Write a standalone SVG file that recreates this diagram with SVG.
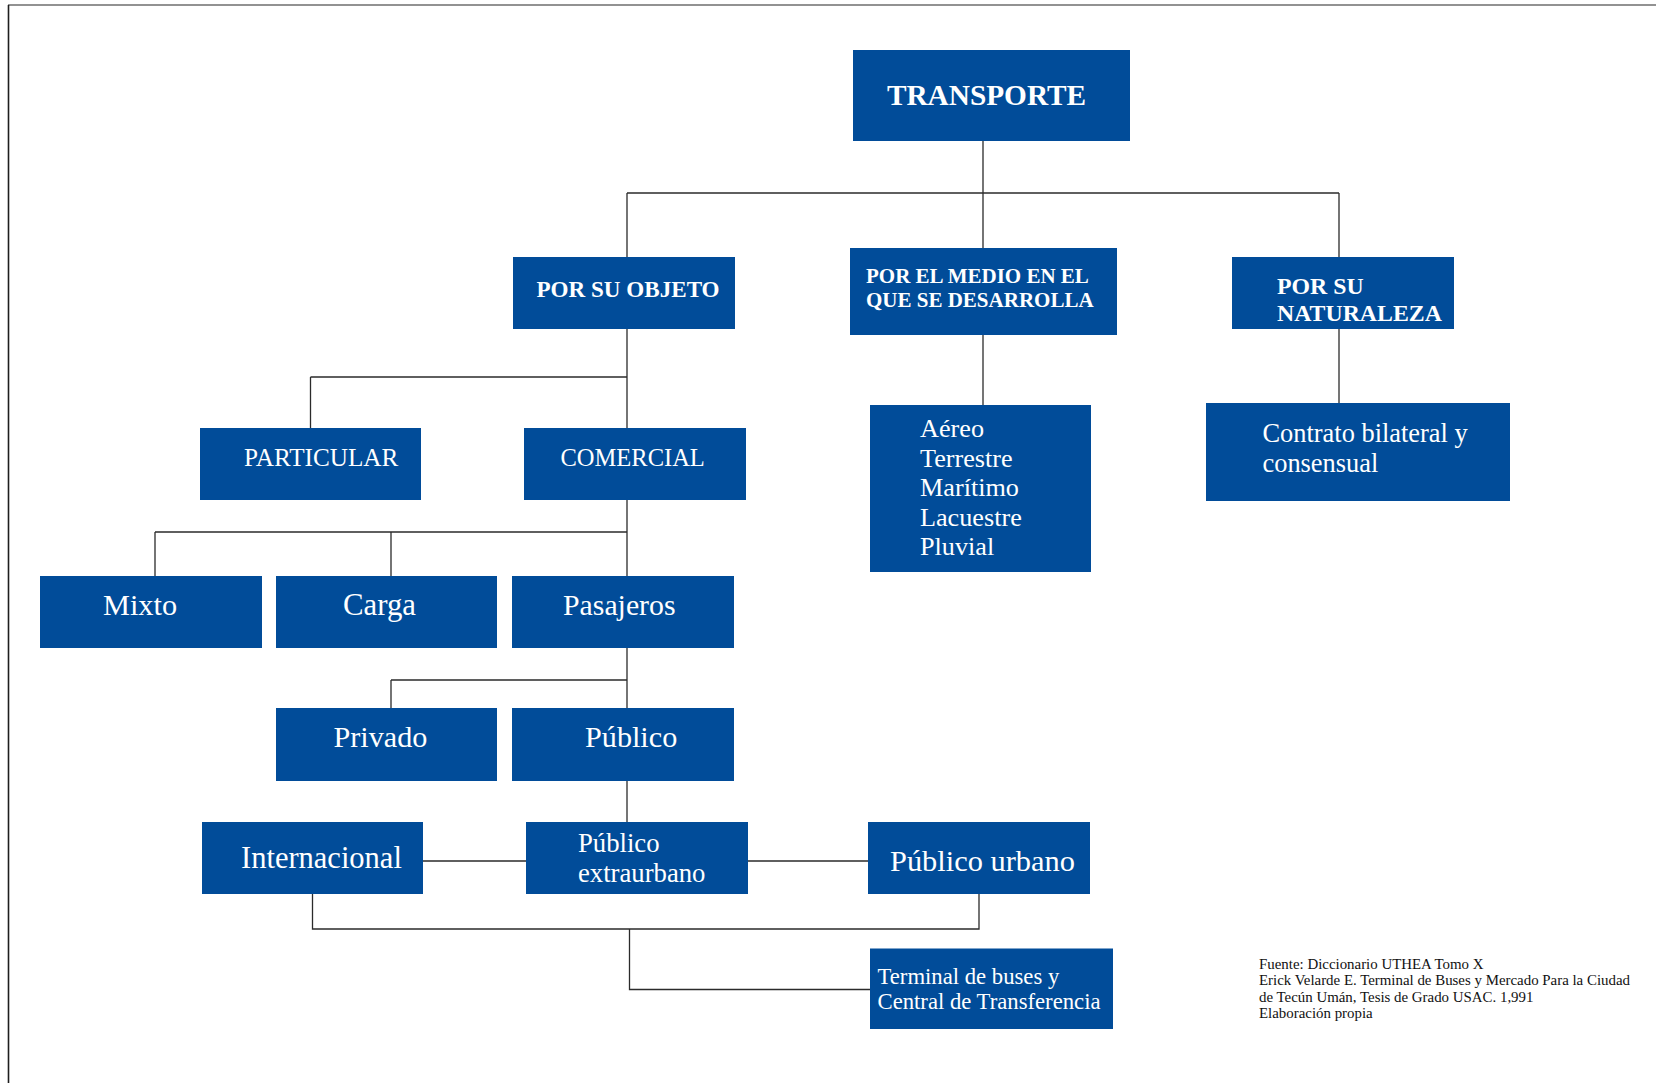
<svg xmlns="http://www.w3.org/2000/svg" width="1656" height="1083" viewBox="0 0 1656 1083">
  <style>
    .box { fill: #014c99; }
    .t { font-family: "Liberation Serif", "Times New Roman", serif; fill: #ffffff; }
    .b { font-weight: bold; }
    .wire { fill: none; stroke: #2b2b2b; stroke-width: 1.3; }
    .note { font-family: "Liberation Serif", "Times New Roman", serif; fill: #111111; font-size: 14.9px; }
  </style>
  <rect width="1656" height="1083" fill="#ffffff"/>

  <!-- page frame -->
  <line x1="8" y1="5" x2="1656" y2="5" stroke="#6e6e6e" stroke-width="1.6"/>
  <line x1="8.5" y1="5" x2="8.5" y2="1083" stroke="#1e1e1e" stroke-width="1.6"/>

  <!-- connectors -->
  <g id="connectors" class="wire">
    <path d="M983 140 V193 M627 193 H1339 M627 193 V257 M983 193 V248 M1339 193 V257"/>
    <path d="M983 335 V405"/>
    <path d="M1339 329 V403"/>
    <path d="M627 329 V428 M310.5 377 H627 M310.5 377 V428"/>
    <path d="M627 500 V576 M155 532 H627 M155 532 V576 M391 532 V576"/>
    <path d="M627 648 V708 M391 680 H627 M391 680 V708"/>
    <path d="M627 780 V822"/>
    <path d="M423 861 H526 M748 861 H868"/>
    <path d="M312.5 894 V929 H979 V894"/>
    <path d="M629.5 929 V989.5 H870"/>
  </g>

  <g id="transporte">
    <rect class="box" x="853" y="50" width="277" height="91"/>
    <text class="t b" x="986.5" y="105" font-size="29.3" text-anchor="middle">TRANSPORTE</text>
  </g>

  <g id="por-su-objeto">
    <rect class="box" x="513" y="257" width="222" height="72"/>
    <text class="t b" x="536.5" y="297" font-size="23.1">POR SU OBJETO</text>
  </g>

  <g id="por-el-medio">
    <rect class="box" x="850" y="248" width="267" height="87"/>
    <text class="t b" font-size="21">
      <tspan x="866" y="283">POR EL MEDIO EN EL</tspan>
      <tspan x="866" y="307">QUE SE DESARROLLA</tspan>
    </text>
  </g>

  <g id="por-su-naturaleza">
    <rect class="box" x="1232" y="257" width="222" height="72"/>
    <text class="t b" font-size="23.8">
      <tspan x="1277" y="294">POR SU</tspan>
      <tspan x="1277" y="320.5">NATURALEZA</tspan>
    </text>
  </g>

  <g id="particular">
    <rect class="box" x="200" y="428" width="221" height="72"/>
    <text class="t" x="244" y="466" font-size="25.2">PARTICULAR</text>
  </g>

  <g id="comercial">
    <rect class="box" x="524" y="428" width="222" height="72"/>
    <text class="t" x="560.5" y="466" font-size="24.5">COMERCIAL</text>
  </g>

  <g id="medios">
    <rect class="box" x="870" y="405" width="221" height="167"/>
    <text class="t" font-size="26.2">
      <tspan x="920" y="437">Aéreo</tspan>
      <tspan x="920" y="466.5">Terrestre</tspan>
      <tspan x="920" y="496">Marítimo</tspan>
      <tspan x="920" y="525.5">Lacuestre</tspan>
      <tspan x="920" y="555">Pluvial</tspan>
    </text>
  </g>

  <g id="contrato">
    <rect class="box" x="1206" y="403" width="304" height="98"/>
    <text class="t" font-size="26.4">
      <tspan x="1262.5" y="442">Contrato bilateral y</tspan>
      <tspan x="1262.5" y="472">consensual</tspan>
    </text>
  </g>

  <g id="mixto">
    <rect class="box" x="40" y="576" width="222" height="72"/>
    <text class="t" x="103" y="614.5" font-size="30.3">Mixto</text>
  </g>

  <g id="carga">
    <rect class="box" x="276" y="576" width="221" height="72"/>
    <text class="t" x="343" y="614.5" font-size="30.8">Carga</text>
  </g>

  <g id="pasajeros">
    <rect class="box" x="512" y="576" width="222" height="72"/>
    <text class="t" x="563" y="614.5" font-size="29.8">Pasajeros</text>
  </g>

  <g id="privado">
    <rect class="box" x="276" y="708" width="221" height="73"/>
    <text class="t" x="333.5" y="747" font-size="30.2">Privado</text>
  </g>

  <g id="publico">
    <rect class="box" x="512" y="708" width="222" height="73"/>
    <text class="t" x="585" y="747" font-size="30.2">Público</text>
  </g>

  <g id="internacional">
    <rect class="box" x="202" y="822" width="221" height="72"/>
    <text class="t" x="241" y="867.5" font-size="30.5">Internacional</text>
  </g>

  <g id="publico-extraurbano">
    <rect class="box" x="526" y="822" width="222" height="72"/>
    <text class="t" font-size="26.7">
      <tspan x="578" y="851.5">Público</tspan>
      <tspan x="578" y="882">extraurbano</tspan>
    </text>
  </g>

  <g id="publico-urbano">
    <rect class="box" x="868" y="822" width="222" height="72"/>
    <text class="t" x="890" y="870.5" font-size="30.4">Público urbano</text>
  </g>

  <g id="terminal">
    <rect class="box" x="870" y="948.5" width="243" height="80.5"/>
    <text class="t" font-size="22.7">
      <tspan x="877.5" y="983.5">Terminal de buses y</tspan>
      <tspan x="877.5" y="1008.5">Central de Transferencia</tspan>
    </text>
  </g>

  <!-- source note -->
  <text class="note">
    <tspan x="1259" y="968.5">Fuente: Diccionario UTHEA Tomo X</tspan>
    <tspan x="1259" y="985">Erick Velarde E. Terminal de Buses y Mercado Para la Ciudad</tspan>
    <tspan x="1259" y="1001.5">de Tecún Umán, Tesis de Grado USAC. 1,991</tspan>
    <tspan x="1259" y="1018">Elaboración propia</tspan>
  </text>
</svg>
